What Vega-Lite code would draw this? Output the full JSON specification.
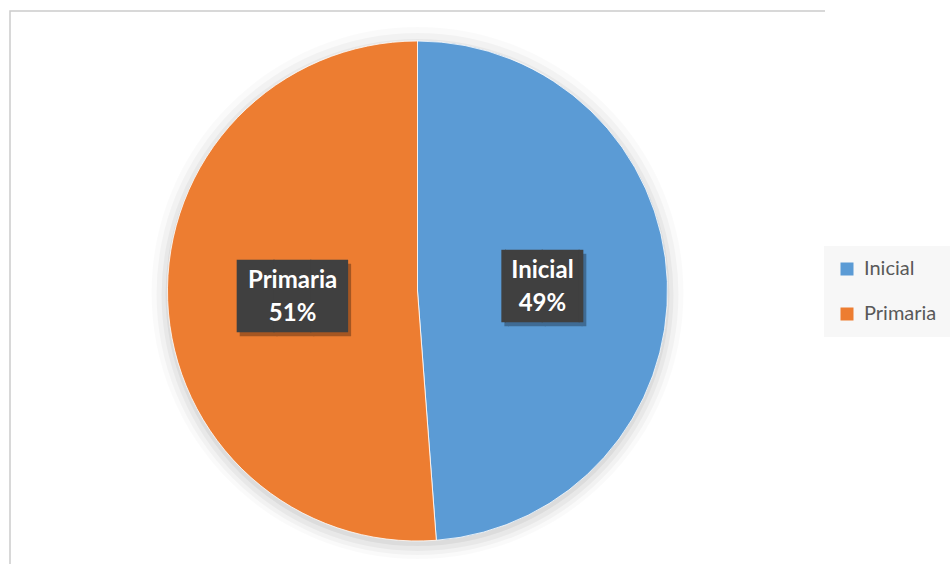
{
  "$schema": "https://vega.github.io/schema/vega-lite/v6.json",
  "autosize": {"type": "none"},
  "width": 815,
  "height": 560,
  "padding": {"left": 10, "top": 11, "right": 126, "bottom": 0},
  "background": "#ffffff",
  "view": {"stroke": "#cccccc", "strokeWidth": 1.5, "strokeDash": [815, 1375, 560, 10]},
  "datasets": {
    "niveles": [
      {"nivel": "Inicial", "pct": 48.8},
      {"nivel": "Primaria", "pct": 51.2}
    ]
  },
  "data": {"name": "niveles"},
  "transform": [
    {"calculate": "datum.nivel + '\\n' + format(datum.pct / 100, '.0%')", "as": "lbl"},
    {"calculate": "length(datum.nivel) > 7 ? '███' : '▕██▏'", "as": "box"}
  ],
  "layer": [
    {
      "data": {"values": [{}]},
      "mark": {"type": "arc", "theta": 0, "theta2": 6.2832, "outerRadius": 266, "color": "#000000", "opacity": 0.02, "yOffset": 2},
      "encoding": {}
    },
    {
      "data": {"values": [{}]},
      "mark": {"type": "arc", "theta": 0, "theta2": 6.2832, "outerRadius": 261, "color": "#000000", "opacity": 0.03, "yOffset": 3},
      "encoding": {}
    },
    {
      "data": {"values": [{}]},
      "mark": {"type": "arc", "theta": 0, "theta2": 6.2832, "outerRadius": 256, "color": "#000000", "opacity": 0.04, "yOffset": 4},
      "encoding": {}
    },
    {
      "data": {"values": [{}]},
      "mark": {"type": "arc", "theta": 0, "theta2": 6.2832, "outerRadius": 252, "color": "#000000", "opacity": 0.05, "yOffset": 3},
      "encoding": {}
    },
    {
      "mark": {"type": "arc", "outerRadius": 250, "stroke": "#ffffff", "strokeWidth": 0.8},
      "encoding": {
        "theta": {"field": "pct", "type": "quantitative", "stack": true},
        "order": {"field": "nivel", "sort": "ascending"},
        "color": {
          "field": "nivel",
          "type": "nominal",
          "scale": {"domain": ["Inicial", "Primaria"], "range": ["#5B9BD5", "#ED7D31"]},
          "legend": {
            "title": null,
            "orient": "none",
            "legendX": 814,
            "legendY": 235,
            "fillColor": "#f7f7f7",
            "padding": 13,
            "symbolType": "square",
            "symbolSize": 169,
            "symbolStrokeWidth": 0,
            "labelFont": "Lato",
            "labelFontSize": 20,
            "labelColor": "#595959",
            "labelOffset": 7,
            "rowPadding": 25
          }
        }
      }
    },
    {
      "mark": {"type": "text", "radius": 125, "font": "DejaVu Sans Mono", "fontSize": 61, "color": "#000000", "opacity": 0.3, "dx": 3, "dy": 7, "align": "center", "baseline": "middle"},
      "encoding": {
        "theta": {"field": "pct", "type": "quantitative", "stack": true},
        "order": {"field": "nivel", "sort": "ascending"},
        "text": {"field": "box", "type": "nominal"}
      }
    },
    {
      "mark": {"type": "text", "radius": 125, "font": "DejaVu Sans Mono", "fontSize": 61, "color": "#404040", "align": "center", "baseline": "middle", "dy": 3},
      "encoding": {
        "theta": {"field": "pct", "type": "quantitative", "stack": true},
        "order": {"field": "nivel", "sort": "ascending"},
        "text": {"field": "box", "type": "nominal"}
      }
    },
    {
      "mark": {"type": "text", "radius": 125, "font": "Lato", "fontSize": 24, "fontWeight": "bold", "color": "#ffffff", "align": "center", "baseline": "middle", "lineBreak": "\n", "lineHeight": 33, "dy": -15},
      "encoding": {
        "theta": {"field": "pct", "type": "quantitative", "stack": true},
        "order": {"field": "nivel", "sort": "ascending"},
        "text": {"field": "lbl", "type": "nominal"}
      }
    }
  ]
}
